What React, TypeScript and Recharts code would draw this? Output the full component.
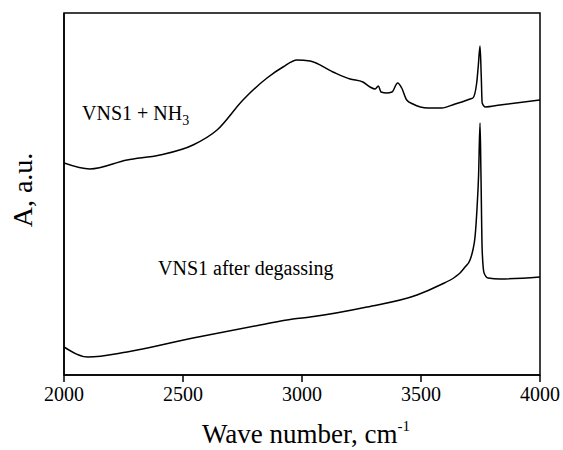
import React from "react";
import {
  LineChart,
  Line,
  XAxis,
  YAxis,
  ReferenceArea,
  ReferenceDot,
  Label,
} from "recharts";

// wavenumber (cm-1) and absorbance (arbitrary units) for each spectrum
const nh3Wave = [
  2000, 2109, 2265, 2403, 2542, 2643, 2752, 2853, 2920, 2979, 3034, 3130,
  3202, 3256, 3286, 3307, 3321, 3332, 3356, 3378, 3402, 3419, 3440, 3466,
  3529, 3587, 3643, 3672, 3706, 3718, 3734, 3741, 3748, 3753, 3757, 3770,
  3832, 4000,
];
const nh3Abs = [
  212, 206, 215, 220, 230, 245, 275, 297, 308, 315, 314, 303, 296, 293, 288,
  286, 289, 283, 282, 283, 292, 287, 275, 271, 267, 267, 271, 273, 276, 277,
  292, 310, 329, 300, 272, 268, 270, 275,
];

const degWave = [
  2000, 2101, 2265, 2542, 2824, 2962, 3034, 3273, 3483, 3580, 3643, 3664,
  3685, 3706, 3718, 3727, 3735, 3742, 3748, 3752, 3757, 3765, 3782, 3832,
  4000,
];
const degAbs = [
  28, 18, 23, 37, 50, 56, 58, 68, 80, 90, 98, 102, 108, 115, 125, 138, 165,
  200, 252, 200, 125, 102, 97, 96, 98,
];

const xTicks = [2000, 2500, 3000, 3500, 4000];

const FONT = "Liberation Serif";

const nh3Data = nh3Wave.map((w, i) => ({ wave: w, abs: nh3Abs[i] }));
const degData = degWave.map((w, i) => ({ wave: w, abs: degAbs[i] }));

function SeriesLabel({ viewBox, text, sub }: any) {
  const x = viewBox.x + viewBox.width / 2;
  const y = viewBox.y + viewBox.height / 2;
  return (
    <text x={x} y={y} style={{ fontFamily: FONT }} fontSize={20} fill="#000">
      {text}
      {sub && (
        <tspan dy={5} fontSize={14}>
          {sub}
        </tspan>
      )}
    </text>
  );
}

function WaveTick({ x, y, payload }: any) {
  return (
    <g>
      <text
        x={x}
        y={y + 15}
        textAnchor="middle"
        fontFamily={FONT}
        fontSize={20}
        style={{ fontFamily: FONT, fontSize: 20 }}
        fill="#000"
      >
        {payload.value}
      </text>
    </g>
  );
}

export default function App() {
  return (
    <div style={{ position: "absolute", left: 0, top: 0 }}>
      <LineChart
        width={563}
        height={450}
        margin={{ top: 13, right: 23, left: 0, bottom: 0 }}
      >
        <XAxis
          dataKey="wave"
          type="number"
          domain={[2000, 4000]}
          ticks={xTicks}
          allowDataOverflow
          height={75}
          tickSize={7}
          tickMargin={4}
          axisLine={{ stroke: "#000", strokeWidth: 1.5 }}
          tickLine={{ stroke: "#000", strokeWidth: 1.5 }}
          tick={WaveTick}
        >
          <Label
            content={({ viewBox }: any) => (
              <text
                x={viewBox.x + viewBox.width / 2 + 4}
                y={443}
                textAnchor="middle"
                style={{ fontFamily: FONT }}
                fontSize={27}
                fill="#000"
              >
                Wave number, cm
                <tspan dy={-12} fontSize={15}>
                  -1
                </tspan>
              </text>
            )}
          />
        </XAxis>
        <YAxis
          type="number"
          domain={[0, 362]}
          allowDataOverflow
          width={64}
          tick={false}
          tickLine={false}
          axisLine={{ stroke: "#000", strokeWidth: 1.5 }}
        >
          <Label
            content={() => (
              <text
                x={32}
                y={190}
                transform="rotate(-90, 32, 190)"
                textAnchor="middle"
                style={{ fontFamily: FONT }}
                fontSize={28}
                fill="#000"
              >
                A, a.u.
              </text>
            )}
          />
        </YAxis>
        <ReferenceArea
          x1={2000}
          x2={4000}
          y1={0}
          y2={362}
          fill="none"
          stroke="#000"
          strokeWidth={1.5}
          fillOpacity={0}
        />
        <Line
          data={nh3Data}
          dataKey="abs"
          type="monotone"
          stroke="#000"
          strokeWidth={1.5}
          dot={false}
          isAnimationActive={false}
        />
        <Line
          data={degData}
          dataKey="abs"
          type="monotone"
          stroke="#000"
          strokeWidth={1.5}
          dot={false}
          isAnimationActive={false}
        />
        <ReferenceDot
          x={2076}
          y={255}
          r={1}
          fill="none"
          stroke="none"
          label={(p: any) => <SeriesLabel {...p} text="VNS1 + NH" sub="3" />}
        />
        <ReferenceDot
          x={2395}
          y={100}
          r={1}
          fill="none"
          stroke="none"
          label={(p: any) => <SeriesLabel {...p} text="VNS1 after degassing" />}
        />
      </LineChart>
    </div>
  );
}
